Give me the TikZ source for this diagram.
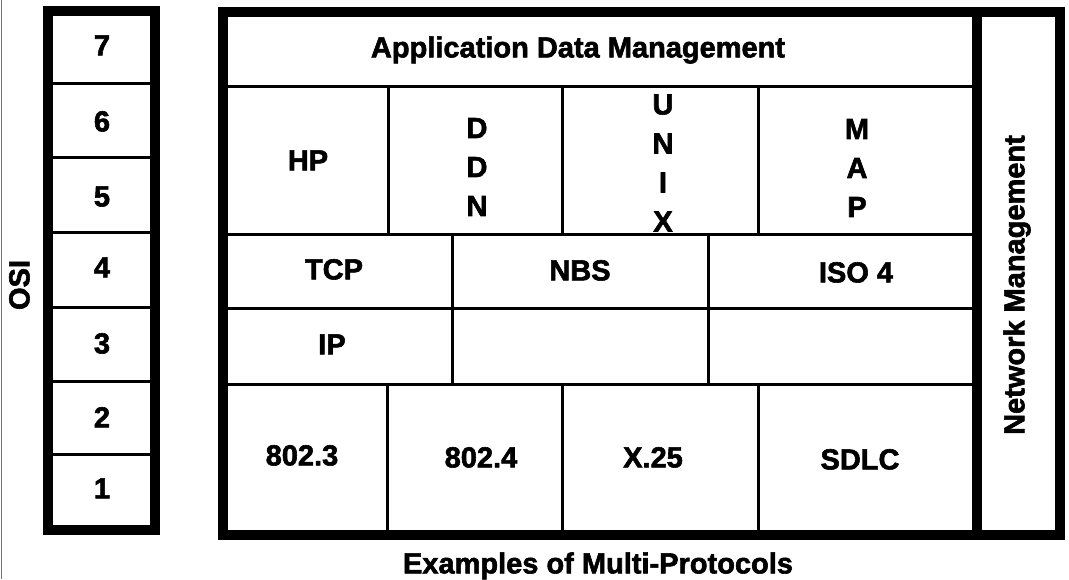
\documentclass[tikz,border=0pt]{standalone}
\usepackage{fontspec}
\setmainfont{Liberation Sans}[BoldFeatures={FakeBold=2}]
\begin{document}
\begin{tikzpicture}[x=1pt,y=-1pt,
  frame/.style={line width=10pt, line join=miter},
  rule/.style={line width=3pt},
  lbl/.style={font=\fontsize{29}{39}\selectfont\bfseries, inner sep=0pt,
              text height=20.8pt, text depth=0pt},
  stack/.style={font=\fontsize{29}{39}\selectfont\bfseries, inner sep=0pt, align=center}]
\useasboundingbox (0,0) rectangle (1069,579);
\fill[white] (0,0) rectangle (1069,579);
% page edge
\draw[line width=1.5pt, black!55] (1.5,0) -- (1.5,579);

% ---- OSI layer column ----
\foreach \y in {83,157,232,307,381,454}
  \draw[rule] (48,\y) -- (155,\y);
\draw[frame] (48,10.5) rectangle (155,530);
\node[lbl] (l7) at (102,45)  {7};
\node[lbl] (l6) at (102,121) {6};
\node[lbl] (l5) at (102,196) {5};
\node[lbl] (l4) at (102,267) {4};
\node[lbl] (l3) at (102,343) {3};
\node[lbl] (l2) at (102,417) {2};
\node[lbl] (l1) at (102,488) {1};
\node[lbl, rotate=90] (osi) at (19,285) {OSI};

% ---- protocol stacks ----
% horizontal rules
\draw[rule] (223,86)  -- (977,86);
\draw[rule] (223,234) -- (977,234);
\draw[rule] (223,308) -- (977,308);
\draw[rule] (223,384) -- (977,384);
% upper-layer columns
\foreach \x in {388,562,758}
  \draw[rule] (\x,86) -- (\x,234);
% transport / network columns
\foreach \x in {452,708}
  \draw[rule] (\x,234) -- (\x,384);
% link / physical columns
\foreach \x in {387,562,758}
  \draw[rule] (\x,384) -- (\x,535);
% outer frame and network-management strip
\draw[frame] (223,12) rectangle (1060,535);
\draw[frame] (977,12) -- (977,535);

\node[lbl] (adm) at (578,47) {Application Data Management};
\node[lbl] (hp) at (308,160) {HP};
\node[stack] (ddn) at (477,167) {D\\D\\N};
\node[stack] (unix) at (663,163) {U\\N\\I\\X};
\node[stack] (map) at (857,168) {M\\A\\P};
\node[lbl] (tcp) at (334,269) {TCP};
\node[lbl] (nbs) at (580,270) {NBS};
\node[lbl] (iso) at (856,272) {ISO 4};
\node[lbl] (ip) at (332,344) {IP};
\node[lbl] (e8023) at (302,455) {802.3};
\node[lbl] (e8024) at (481,457) {802.4};
\node[lbl] (x25) at (653,457) {X.25};
\node[lbl] (sdlc) at (860,459) {SDLC};
\node[lbl, rotate=90] (nm) at (1014,285) {Network Management};

\node[lbl] (cap) at (598,563) {Examples of Multi-Protocols};
\end{tikzpicture}
\end{document}
